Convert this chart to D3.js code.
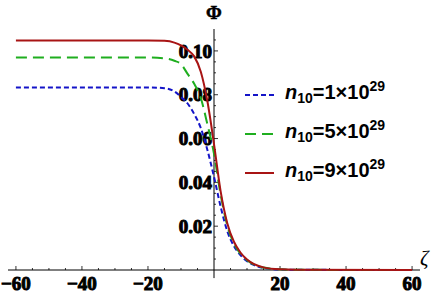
<!DOCTYPE html>
<html>
  <head>
    <meta charset="UTF-8">
    <style>
      body { margin: 0; background: #fff; }
      svg { display: block; }
    </style>
  </head>
  <body>
    <svg id="chart" width="436" height="294"></svg>
    <script src="https://d3js.org/d3.v7.min.js"></script>
    <script>
      // zeta grid
      var zeta = [-60, -20, -15, -12, -10, -8, -6, -4, -2, 0, 2, 4, 6, 8, 10, 12, 15, 20, 25, 60];

      // Phi for each n10 value
      var phiN1 = [0.0833, 0.0833, 0.0830, 0.0815, 0.0790, 0.0760, 0.0712, 0.0648, 0.0548, 0.0425, 0.0290, 0.0178, 0.0110, 0.0068, 0.0040, 0.0023, 0.0009, 0.0002, 0.0001, 0];
      var phiN5 = [0.0970, 0.0970, 0.0966, 0.0955, 0.0940, 0.0895, 0.0850, 0.0785, 0.0665, 0.0530, 0.0345, 0.0205, 0.0122, 0.0075, 0.0045, 0.0026, 0.0011, 0.0003, 0.0001, 0];
      var phiN9 = [0.1048, 0.1048, 0.1046, 0.1038, 0.1025, 0.1005, 0.0975, 0.0905, 0.0770, 0.0575, 0.0360, 0.0215, 0.0130, 0.0080, 0.0048, 0.0028, 0.0012, 0.0003, 0.0001, 0];

      var seriesMant = ["1", "5", "9"];
      var xTicks = [-60, -40, -20, 20, 40, 60];
      var yTicks = [0.02, 0.04, 0.06, 0.08, 0.10];

      var series = [
        { mant: seriesMant[0], values: phiN1, color: "#1414c8", dash: "5,3" },
        { mant: seriesMant[1], values: phiN5, color: "#1fae1f", dash: "11,6" },
        { mant: seriesMant[2], values: phiN9, color: "#a81414", dash: null }
      ];

      var serif = "'Liberation Serif', 'Times New Roman', Times, serif";
      var sans = "'Liberation Sans', Arial, Helvetica, sans-serif";

      var svg = d3.select("#chart");

      var x = d3.scaleLinear().domain([-62.4, 62.4]).range([8, 420]);
      var y = d3.scaleLinear().domain([0, 0.11]).range([270, 29]);

      function tickText(sel) {
        sel.attr("font-family", serif)
           .attr("font-weight", "bold")
           .attr("font-size", 19)
           .attr("fill", "#000")
           .attr("stroke", "#000")
           .attr("stroke-width", 1);
      }

      // axes
      svg.append("line")
          .attr("x1", x(-62.4)).attr("x2", x(62.4))
          .attr("y1", y(0)).attr("y2", y(0))
          .attr("stroke", "#000").attr("stroke-width", 1);
      svg.append("line")
          .attr("x1", x(0)).attr("x2", x(0))
          .attr("y1", y(-0.0037)).attr("y2", y(0.11))
          .attr("stroke", "#000").attr("stroke-width", 1);

      // x ticks: major every 20, minor every 5
      var xMinor = d3.range(-60, 61, 5).filter(function(d) { return d !== 0; });
      svg.selectAll(".xtick")
        .data(xMinor)
        .enter().append("line")
          .attr("x1", function(d) { return x(d); })
          .attr("x2", function(d) { return x(d); })
          .attr("y1", y(0))
          .attr("y2", function(d) { return y(0) - (d % 20 === 0 ? 4 : 2); })
          .attr("stroke", "#000").attr("stroke-width", 0.8);

      svg.selectAll(".xlabel")
        .data(xTicks)
        .enter().append("text")
          .call(tickText)
          .attr("x", function(d) { return x(d); })
          .attr("y", 290)
          .attr("text-anchor", "middle")
          .text(function(d) { return d < 0 ? "\u2212" + Math.abs(d) : d; });

      // y ticks: major every 0.02, minor every 0.005
      var yMinor = d3.range(1, 22).map(function(i) { return i * 0.005; });
      svg.selectAll(".ytick")
        .data(yMinor)
        .enter().append("line")
          .attr("x1", x(0))
          .attr("x2", function(d, i) { return x(0) + ((i + 1) % 4 === 0 ? 4 : 2); })
          .attr("y1", function(d) { return y(d); })
          .attr("y2", function(d) { return y(d); })
          .attr("stroke", "#000").attr("stroke-width", 0.8);

      svg.selectAll(".ylabel")
        .data(yTicks)
        .enter().append("text")
          .call(tickText)
          .attr("x", 212)
          .attr("y", function(d) { return y(d); })
          .attr("dy", "0.35em")
          .attr("text-anchor", "end")
          .text(function(d) { return d3.format(".2f")(d); });

      // axis titles
      svg.append("text")
          .attr("x", x(0)).attr("y", 19)
          .attr("text-anchor", "middle")
          .attr("font-family", serif)
          .attr("font-weight", "bold")
          .attr("font-size", 19)
          .attr("stroke", "#000").attr("stroke-width", 0.5)
          .text("\u03A6");
      svg.append("text")
          .attr("x", 420).attr("y", 265)
          .attr("font-family", serif)
          .attr("font-style", "italic")
          .attr("font-size", 21)
          .text("\u03B6");

      // curves
      var line = d3.line()
          .x(function(d, i) { return x(zeta[i]); })
          .y(function(d) { return y(d); })
          .curve(d3.curveMonotoneX);

      series.forEach(function(s) {
        svg.append("path")
            .attr("d", line(s.values))
            .attr("fill", "none")
            .attr("stroke", s.color)
            .attr("stroke-width", 2)
            .attr("stroke-dasharray", s.dash);
      });

      // legend
      var legend = svg.selectAll(".legend")
        .data(series)
        .enter().append("g")
          .attr("transform", function(d, i) { return "translate(245," + (95 + i * 39) + ")"; });
      legend.append("line")
          .attr("x1", 0).attr("x2", 29)
          .attr("stroke", function(d) { return d.color; })
          .attr("stroke-width", 2)
          .attr("stroke-dasharray", function(d) { return d.dash; });
      var lt = legend.append("text")
          .attr("font-family", sans)
          .attr("font-weight", "bold")
          .attr("font-size", 20)
          .attr("x", 40).attr("y", 4);
      lt.append("tspan").attr("font-style", "italic").text("n");
      lt.append("tspan").attr("dy", 4).attr("font-size", 14).text("10");
      lt.append("tspan").attr("dy", -4).text(function(d) { return "=" + d.mant + "\u00D710"; });
      lt.append("tspan").attr("dy", -8).attr("font-size", 14).text("29");
    </script>
  </body>
</html>
